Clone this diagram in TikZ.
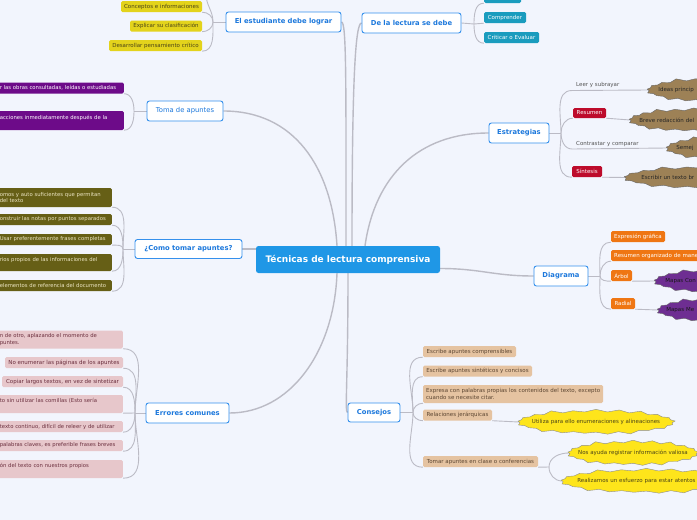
\documentclass[tikz,border=0pt]{standalone}
\usepackage{fontspec}
\setmainfont{DejaVu Sans}
\usetikzlibrary{shapes.symbols,backgrounds}
\definecolor{bgc}{HTML}{F2F5FD}
\definecolor{conncol}{HTML}{BBBBC5}
\definecolor{topicb}{HTML}{3590EC}
\definecolor{topict}{HTML}{1C78DC}
\definecolor{centralf}{HTML}{1F97E6}
\definecolor{yelc}{HTML}{E3D31C}
\definecolor{yeltxt}{HTML}{4A4418}
\definecolor{tealc}{HTML}{1A9CBE}
\definecolor{purpc}{HTML}{6D0B89}
\definecolor{olivec}{HTML}{665F16}
\definecolor{olivetxt}{HTML}{EDE6C4}
\definecolor{redc}{HTML}{BD0B2B}
\definecolor{orngc}{HTML}{EF7613}
\definecolor{pinkc}{HTML}{E7C7CB}
\definecolor{pinktxt}{HTML}{6B2F3E}
\definecolor{tanc}{HTML}{E5C3A1}
\definecolor{tantxt}{HTML}{5C4632}
\definecolor{brownc}{HTML}{9D8156}
\definecolor{explyel}{HTML}{FEE51B}
\definecolor{explpur}{HTML}{6E2E92}
\definecolor{plaintxt}{HTML}{555555}
\newcommand\leaffont{\fontsize{5.5}{7}\selectfont}
\newcommand\cutfont{\fontsize{5.3}{6.8}\selectfont}
\tikzset{
  conn/.style={draw=conncol, line width=1.4pt},
  subconn/.style={draw=conncol, line width=0.9pt},
  central/.style={fill=centralf, text=white, rounded corners=2.5pt, font=\bfseries\fontsize{9}{10}\selectfont, minimum width=184pt, minimum height=27pt, inner sep=0pt},
  topic/.style={draw=topicb, line width=0.9pt, fill=white, rounded corners=2.5pt, text=topict, font=\bfseries\fontsize{6.8}{8}\selectfont, minimum height=20pt, inner sep=0pt},
  leaf/.style={rounded corners=1.5pt, font=\leaffont, minimum height=11pt, inner xsep=3pt, inner ysep=1.5pt},
  yleaf/.style={leaf, fill=yelc, text=yeltxt},
  tleaf/.style={leaf, fill=tealc, text=white},
  pleaf/.style={leaf, fill=purpc, text=white},
  rleaf/.style={leaf, fill=redc, text=white},
  orleaf/.style={leaf, fill=orngc, text=white},
  olleaf/.style={leaf, fill=olivec, text=olivetxt},
  pkleaf/.style={leaf, fill=pinkc, text=pinktxt},
  tnleaf/.style={leaf, fill=tanc, text=tantxt},
  plain/.style={font=\leaffont, text=plaintxt, inner xsep=4pt, inner ysep=2.5pt},
  cutleft/.style={anchor=east, text width=#1, align=left, font=\cutfont},
  expl/.style={starburst, starburst points=21, starburst point height=3.5pt, line width=0.4pt, font=\leaffont, inner xsep=-10pt, inner ysep=4.5pt, align=left},
  yexpl/.style={expl, fill=explyel, draw=black!45, text=yeltxt},
  brexpl/.style={expl, fill=brownc, draw=black!60, text=black!85},
  puexpl/.style={expl, fill=explpur, draw=black!60, text=black!90},
}
\begin{document}
\begin{tikzpicture}[x=1pt,y=-1pt]
\useasboundingbox (0,0) rectangle (697,520);
% central and topics
\node[central] (c) at (348,259.5) {Técnicas de lectura comprensiva};
\node[topic, minimum width=115pt] (t1) at (283.5,22) {El estudiante debe lograr};
\node[topic, minimum width=99pt] (t2) at (411.5,23) {De la lectura se debe};
\node[topic, minimum width=76pt, font=\fontsize{6.8}{8}\selectfont] (t3) at (185,111) {Toma de apuntes};
\node[topic, minimum width=60pt] (t4) at (519,133) {Estrategias};
\node[topic, minimum width=107pt, minimum height=19pt] (t5) at (188.5,249) {¿Como tomar apuntes?};
\node[topic, minimum width=54pt] (t6) at (561,276) {Diagrama};
\node[topic, minimum width=83pt] (t7) at (187.5,413) {Errores comunes};
\node[topic, minimum width=52pt, minimum height=19pt] (t8) at (374,412.5) {Consejos};
% El estudiante debe lograr
\node[yleaf, minimum width=81pt] (y1) at (161.5,6.5) {Conceptos e informaciones};
\node[yleaf, minimum width=72pt] (y2) at (166,26) {Explicar su clasificación};
\node[yleaf, minimum width=93pt] (y3) at (155.5,45.5) {Desarrollar pensamiento crítico};
\coordinate (jy) at (213,22);
\coordinate (ytop) at (206,-6);
% De la lectura se debe
\node[tleaf, minimum width=37pt] (tl0) at (502.5,-2.5) {};
\node[tleaf, minimum width=42pt] (tl1) at (505,17.5) {Comprender};
\node[tleaf, minimum width=55pt] (tl2) at (511.5,37.5) {Criticar o Evaluar};
\coordinate (jt) at (474,24);
% Toma de apuntes
\node[pleaf, cutleft=121pt] (p1) at (124,88) {\mbox{r las obras consultadas, leídas o estudiadas}};
\node[pleaf, cutleft=121pt, minimum height=19pt] (p2) at (124,120.5) {\mbox{acciones inmediatamente después de la}\\\mbox{}};
\coordinate (jp) at (134,111);
% Estrategias
\node[plain, anchor=south west] (s1) at (572,90.5) {Leer y subrayar};
\node[rleaf, minimum width=33pt, minimum height=10pt] (s2) at (589.5,113) {Resumen};
\node[plain, anchor=south west] (s3) at (572,149) {Contrastar y comparar};
\node[rleaf, minimum width=30pt] (s4) at (587,171.5) {Síntesis};
\node[brexpl, anchor=west, text width=114pt] (x1) at (648,90) {\mbox{Ideas princip}};
\node[brexpl, anchor=west, text width=109pt] (x2) at (630,120) {\mbox{Breve redacción del}};
\node[brexpl, anchor=west, text width=109pt] (x3) at (667,148) {\mbox{Semej}};
\node[brexpl, anchor=west, text width=143pt] (x4) at (625,177.5) {\mbox{Escribir un texto br}};
\coordinate (js) at (561,133);
% Diagrama
\node[orleaf, minimum width=54pt] (dd1) at (638,236.5) {Expresión gráfica};
\node[orleaf, anchor=west, text width=100pt, align=left] (dd2) at (611,255.5) {Resumen organizado de mane};
\node[orleaf, minimum width=21pt] (dd3) at (621.5,275.5) {Árbol};
\node[orleaf, minimum width=24pt] (dd4) at (623,303.5) {Radial};
\node[puexpl, anchor=west, text width=114pt] (m1) at (655,281) {\mbox{Mapas Con}};
\node[puexpl, anchor=west, text width=104pt] (m2) at (658,310) {\mbox{Mapas Me}};
\coordinate (jd) at (600,276);
% Como tomar apuntes
\node[olleaf, cutleft=109pt, minimum height=19pt] (o1) at (112,197.5) {\mbox{omos y auto suficientes que permitan}\\\mbox{del texto}};
\node[olleaf, cutleft=109pt] (o2) at (112,219.5) {\mbox{onstruir las notas por puntos separados}};
\node[olleaf, cutleft=109pt] (o3) at (112,239.5) {\mbox{Usar preferentemente frases completas}};
\node[olleaf, cutleft=109pt, minimum height=17pt] (o4) at (112,262.5) {\mbox{rios propios de las informaciones del}\\\mbox{}};
\node[olleaf, cutleft=109pt] (o5) at (112,285.5) {\mbox{elementos de referencia del documento}};
\coordinate (jo) at (123,249);
% Errores comunes
\node[pkleaf, cutleft=120pt, minimum height=18pt] (k1) at (123,339.5) {\mbox{n de otro, aplazando el momento de}\\\mbox{puntes.}};
\node[pkleaf, minimum width=118pt] (k2) at (64,362.5) {No enumerar las páginas de los apuntes};
\node[pkleaf, minimum width=121pt] (k3) at (62.5,381.5) {Copiar largos textos, en vez de sintetizar};
\node[pkleaf, cutleft=120pt, minimum height=18pt] (k4) at (123,404) {\mbox{to sin utilizar las comillas (Esto sería}\\\mbox{}};
\node[pkleaf, cutleft=120pt] (k5) at (123,426.5) {\mbox{texto continuo, difícil de releer y de utilizar}};
\node[pkleaf, cutleft=120pt] (k6) at (123,445.5) {\mbox{palabras claves, es preferible frases breves}};
\node[pkleaf, cutleft=120pt, minimum height=18pt] (k7) at (123,469) {\mbox{ón del texto con nuestros propios}\\\mbox{}};
\coordinate (jk) at (135,413);
% Consejos
\node[tnleaf, minimum width=93pt] (n1) at (469.5,351.5) {Escribe apuntes comprensibles};
\node[tnleaf, minimum width=109pt] (n2) at (477.5,371) {Escribe apuntes sintéticos y concisos};
\node[tnleaf, anchor=west, align=left, minimum height=18pt] (n3) at (423,394) {Expresa con palabras propias los contenidos del texto, excepto\\cuando se necesite citar.};
\node[tnleaf, minimum width=69pt] (n4) at (457.5,415) {Relaciones jerárquicas};
\node[tnleaf, minimum width=115pt] (n5) at (480.5,461.5) {Tomar apuntes en clase o conferencias};
\node[yexpl] (e1) at (596,422) {Utiliza para ello enumeraciones y alineaciones};
\node[yexpl] (e2) at (633,453) {Nos ayuda registrar información valiosa};
\node[yexpl, anchor=west, text width=138pt] (e3) at (562,481) {Realizamos un esfuerzo para estar atentos};
\coordinate (jn) at (413,412.5);
\coordinate (jn5) at (549,467);
\begin{pgfonlayer}{background}
\fill[bgc] (0,0) rectangle (697,520);
% central connectors
\draw[conn] (t1.east) .. controls +(5,0) and +(0,-170) .. ([xshift=-2pt]c.north);
\draw[conn] (t2.west) .. controls +(-6,0) and +(0,-170) .. ([xshift=4pt]c.north);
\draw[conn] (t4.west) .. controls +(-70,0) and +(10,-70) .. ([xshift=17pt]c.north);
\draw[conn] (t3.east) .. controls +(70,0) and +(-5,-80) .. ([xshift=-11pt]c.north);
\draw[conn] (t5.east) -- (c.west |- t5.east);
\draw[conn] ([yshift=-9pt]c.east) .. controls +(40,0) and +(-40,0) .. (t6.west);
\draw[conn] ([xshift=-11pt]c.south) .. controls +(-3,80) and +(60,0) .. (t7.east);
\draw[conn] (c.south) .. controls +(0,110) and +(-3,0) .. (t8.west);
% yellow
\draw[subconn] (t1.west) -- (jy);
\draw[subconn] (jy) to[out=90,in=0] (y1.south east);
\draw[subconn] (jy) to[out=-90,in=0] (y2.south east);
\draw[subconn] (jy) to[out=-90,in=0] (y3.south east);
\draw[subconn] (jy) to[out=90,in=-90] (ytop);
% teal
\draw[subconn] (t2.east) -- (jt);
\draw[subconn] (jt) to[out=90,in=180] (tl0.south west);
\draw[subconn] (jt) -- (tl1.south west);
\draw[subconn] (jt) to[out=-90,in=180] (tl2.south west);
% purple
\draw[subconn] (t3.west) -- (jp);
\draw[subconn] (jp) to[out=90,in=0] (p1.south east);
\draw[subconn] (jp) to[out=-90,in=0] (p2.south east);
% estrategias
\draw[subconn] (t4.east) -- (js);
\draw[subconn] (js) to[out=90,in=180] (s1.south west) -- (x1.west);
\draw[subconn] (js) to[out=90,in=180] (s2.south west);
\draw[subconn] (s2.south east) -- (x2.west);
\draw[subconn] (js) to[out=-90,in=180] (s3.south west) -- (x3.west);
\draw[subconn] (js) to[out=-90,in=180] (s4.south west);
\draw[subconn] (s4.south east) -- (x4.west);
% diagrama
\draw[subconn] (t6.east) -- (jd);
\draw[subconn] (jd) to[out=90,in=180] (dd1.south west);
\draw[subconn] (jd) to[out=90,in=180] (dd2.south west);
\draw[subconn] (jd) to[out=-90,in=180] (dd3.south west);
\draw[subconn] (jd) to[out=-90,in=180] (dd4.south west);
\draw[subconn] (dd3.south east) -- (m1.west);
\draw[subconn] (dd4.south east) -- (m2.west);
% olive
\draw[subconn] (t5.west) -- (jo);
\draw[subconn] (jo) to[out=90,in=0] (o1.south east);
\draw[subconn] (jo) to[out=90,in=0] (o2.south east);
\draw[subconn] (jo) to[out=90,in=0] (o3.south east);
\draw[subconn] (jo) to[out=-90,in=0] (o4.south east);
\draw[subconn] (jo) to[out=-90,in=0] (o5.south east);
% pink
\draw[subconn] (t7.west) -- (jk);
\draw[subconn] (jk) to[out=90,in=0] (k1.south east);
\draw[subconn] (jk) to[out=90,in=0] (k2.south east);
\draw[subconn] (jk) to[out=90,in=0] (k3.south east);
\draw[subconn] (jk) -- (k4.south east);
\draw[subconn] (jk) to[out=-90,in=0] (k5.south east);
\draw[subconn] (jk) to[out=-90,in=0] (k6.south east);
\draw[subconn] (jk) to[out=-90,in=0] (k7.south east);
% consejos
\draw[subconn] (t8.east) -- (jn);
\draw[subconn] (jn) to[out=90,in=180] (n1.south west);
\draw[subconn] (jn) to[out=90,in=180] (n2.south west);
\draw[subconn] (jn) to[out=90,in=180] (n3.south west);
\draw[subconn] (jn) to[out=-90,in=180] (n4.south west);
\draw[subconn] (jn) to[out=-90,in=180] (n5.south west);
\draw[subconn] (n4.south east) -- (e1.west);
\draw[subconn] (n5.south east) -- (jn5);
\draw[subconn] (jn5) to[out=90,in=180] (e2.west);
\draw[subconn] (jn5) to[out=-90,in=180] (e3.west);
\end{pgfonlayer}
\end{tikzpicture}
\end{document}
